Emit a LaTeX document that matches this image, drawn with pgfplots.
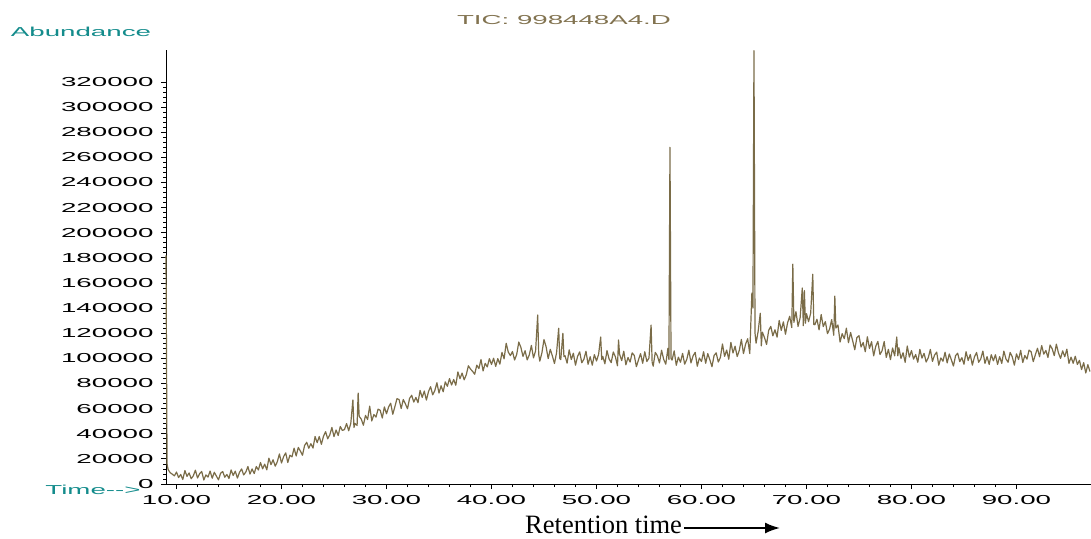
\documentclass[border=0pt]{standalone}
\usepackage{fontspec}
\usepackage{pgfplots}
\pgfplotsset{compat=1.18}
\usetikzlibrary{arrows.meta}
\setmainfont{Liberation Serif}
\newfontfamily\widefont[FakeStretch=2.13]{Liberation Sans}
\definecolor{tealc}{RGB}{20,140,140}
\definecolor{titlec}{RGB}{130,115,80}
\definecolor{linec}{RGB}{122,108,72}
\begin{document}
\begin{tikzpicture}
\path[use as bounding box] (0,0) rectangle (1091pt,538pt);
\begin{axis}[
  at={(166pt,54pt)}, anchor=south west,
  scale only axis, width=925pt, height=434pt,
  xmin=9.0, xmax=97.1, ymin=0, ymax=345500,
  axis lines*=left,
  axis line style={black, line width=0.9pt},
  tick align=outside,
  major tick length=5pt, minor tick length=3pt,
  tick style={black, line width=0.8pt},
  xtick={10,20,...,90}, minor x tick num=4,
  ytick={0,20000,...,320000}, minor y tick num=4,
  scaled y ticks=false,
  tick label style={font=\widefont\fontsize{13}{13}\selectfont, /pgf/number format/assume math mode=true},
  xticklabel style={yshift=-3pt, /pgf/number format/.cd, fixed, fixed zerofill, precision=2},
  yticklabel style={xshift=-4pt, /pgf/number format/.cd, fixed, 1000 sep={}},
  clip=false,
]
\addplot[color=linec, line width=1.2pt, line join=round, mark=none] coordinates {
(9.0,182000)(9.1,16000)(9.2,11500)(9.4,9000)(9.6,7800)(9.8,6500)
(10.0,9500)(10.2,5100)(10.4,7600)(10.6,3600)(10.8,10700)(11.0,6100)(11.2,8800)(11.4,4200)(11.6,6500)(11.8,11000)
(12.0,4800)(12.2,8200)(12.4,10000)(12.6,3200)(12.8,7200)(13.0,5500)(13.2,10300)(13.4,4600)(13.6,9300)(13.8,6300)
(14.0,3300)(14.2,8600)(14.4,9900)(14.6,5400)(14.8,7600)(15.0,4400)(15.2,11200)(15.4,6800)(15.6,10200)(15.8,4700)
(16.0,9300)(16.2,12000)(16.4,7200)(16.6,9500)(16.8,13900)(17.0,7900)(17.2,12000)(17.4,8300)(17.6,13900)(17.8,11200)
(18.0,17100)(18.2,12100)(18.4,15800)(18.6,11300)(18.8,20600)(19.0,15400)(19.2,19300)(19.4,14200)(19.6,17700)(19.8,23900)
(20.0,16700)(20.2,21800)(20.4,24800)(20.6,17100)(20.8,22900)(21.0,21600)(21.2,28500)(21.4,22300)(21.6,29100)(21.8,26200)
(22.0,22900)(22.2,30700)(22.4,33200)(22.6,28500)(22.8,32100)(23.0,28600)(23.2,37800)(23.4,32900)(23.6,37800)(23.8,31600)
(24.0,38000)(24.2,41700)(24.4,36000)(24.6,39100)(24.8,45000)(25.0,37700)(25.2,43000)(25.4,38600)(25.6,45800)(25.8,42600)
(26.0,43400)(26.2,48100)(26.4,42400)(26.6,48300)(26.8,66900)(26.9,45000)(27.0,48200)(27.2,46600)(27.3,72400)(27.4,53800)
(27.6,51600)(27.8,46800)(28.0,54600)(28.2,51300)(28.4,62000)(28.6,50200)(28.8,55300)(29.0,53300)(29.2,59600)(29.4,58700)
(29.6,52500)(29.8,61400)
(30.0,55900)(30.2,61300)(30.4,64300)(30.6,55500)(30.8,61600)(31.0,68000)(31.2,67200)(31.4,60100)(31.6,67300)(31.8,63800)
(32.0,59900)(32.2,68200)(32.4,70600)(32.6,65200)(32.8,68900)(33.0,64700)(33.2,74500)(33.4,68900)(33.6,74000)(33.8,66800)
(34.0,73600)(34.2,77500)(34.4,71000)(34.6,74300)(34.8,80600)(35.0,72400)(35.2,78200)(35.4,73400)(35.6,81300)(35.8,77800)
(36.0,83900)(36.2,78800)(36.4,83200)(36.6,78600)(36.8,89200)(37.0,83800)(37.2,88300)(37.4,82900)(37.6,87000)(37.8,94100)
(38.0,91500)(38.2,89700)(38.4,87400)(38.6,94600)(38.8,91900)(39.0,99100)(39.2,90000)(39.4,96100)(39.6,93200)(39.8,99800)
(40.0,95200)(40.2,100100)(40.4,93600)(40.6,99800)(40.8,95400)(41.0,104800)(41.2,99600)(41.4,112000)(41.6,105000)(41.8,102200)
(42.0,105500)(42.2,98700)(42.4,103100)(42.6,113000)(42.8,108700)(43.0,101600)(43.2,106100)(43.4,98800)(43.6,102800)(43.8,110300)
(44.0,100400)(44.2,106000)(44.4,134500)(44.5,103000)(44.6,97800)(44.8,104300)(45.0,115000)(45.2,109300)(45.4,99800)(45.6,107200)
(45.8,101900)(46.0,95900)(46.2,104600)(46.4,124000)(46.5,100000)(46.6,99000)(46.8,120000)(46.9,101500)(47.0,102200)(47.2,96200)
(47.4,106800)(47.6,99100)(47.8,104100)(48.0,94600)(48.2,101600)(48.4,105200)(48.6,96500)(48.8,99300)(49.0,105700)(49.2,95300)
(49.4,101300)(49.6,94600)(49.8,103000)(50.0,97900)(50.2,103100)(50.4,117000)(50.5,99000)(50.6,101600)(50.8,95700)(51.0,106200)
(51.2,99600)(51.4,96600)(51.6,105100)(51.8,101300)(52.0,94100)(52.1,114600)(52.2,103400)(52.4,98200)(52.6,105700)(52.8,94900)
(53.0,100700)(53.2,97100)(53.4,104400)(53.6,102300)(53.8,93400)(54.0,98800)(54.2,103800)(54.4,96100)(54.6,105300)(54.8,97500)
(55.0,100300)(55.2,126500)(55.3,97000)(55.4,93800)(55.6,104800)(55.8,102000)(56.0,96400)(56.2,106500)(56.4,99200)(56.6,95400)
(56.8,108000)(56.9,99000)(57.0,268000)(57.1,100000)(57.2,98600)(57.4,106000)(57.6,94500)(57.8,101000)(58.0,96900)(58.2,104000)
(58.4,95400)(58.6,99200)(58.8,106500)(59.0,96400)(59.2,102000)(59.4,104800)(59.6,93800)(59.8,100300)(60.0,97500)(60.2,105300)
(60.4,96100)(60.6,103800)(60.8,98800)(61.0,93400)(61.2,102300)(61.4,104400)(61.6,97100)(61.8,100700)
(62.0,111500)(62.2,101600)(62.4,106600)(62.6,99300)(62.8,112700)(63.0,104300)(63.2,109700)(63.4,101500)(63.6,106300)(63.8,115100)
(64.0,103800)(64.2,111300)(64.4,115600)(64.6,103800)(64.8,152000)(64.9,140000)(65.0,345000)(65.1,120000)(65.2,112100)(65.4,121700)
(65.6,136000)(65.7,110000)(65.8,120900)(66.0,116600)(66.2,111100)(66.4,122300)(66.6,125500)(66.8,117900)(67.0,122800)(67.2,116900)
(67.4,130200)(67.6,122300)(67.8,129100)(68.0,119200)(68.2,128300)(68.4,133500)(68.6,124500)(68.7,175000)(68.8,128700)(69.0,137200)
(69.2,125400)(69.4,132600)(69.6,156000)(69.7,126000)(69.8,154000)(69.9,128000)(70.0,135600)(70.2,129200)(70.4,135900)(70.6,167000)
(70.7,127000)(70.8,126800)(71.0,131200)(71.2,122700)(71.4,134900)(71.6,125300)(71.8,129300)(72.0,119700)(72.2,123300)(72.4,130900)
(72.6,118400)(72.7,149600)(72.8,124100)(73.0,126600)(73.2,113000)(73.4,119700)(73.6,115700)(73.8,124000)(74.0,112500)(74.2,120600)
(74.4,114000)(74.6,106900)(74.8,116500)(75.0,118100)(75.2,109100)(75.4,112600)(75.6,105300)(75.8,117200)(76.0,107900)(76.2,113300)
(76.4,102000)(76.6,109700)(76.8,113500)(77.0,103100)(77.2,106100)(77.4,113400)(77.6,100800)(77.8,107200)(78.0,99000)(78.2,108300)
(78.4,102000)(78.6,117000)(78.7,102000)(78.8,108500)(79.0,99900)(79.2,104500)(79.4,96800)(79.6,109800)(79.8,101000)
(80.0,106200)(80.2,99400)(80.4,103100)(80.6,96900)(80.8,107200)(81.0,100200)(81.2,104000)(81.4,97100)(81.6,100500)(81.8,107100)
(82.0,97600)(82.2,102600)(82.4,105000)(82.6,94600)(82.8,100400)(83.0,97700)(83.2,104900)(83.4,96400)(83.6,103500)(83.8,98900)
(84.0,93900)(84.2,102200)(84.4,104100)(84.6,97400)(84.8,100600)(85.0,95300)(85.2,105300)(85.4,98300)(85.6,103100)(85.8,94600)
(86.0,101200)(86.2,104700)(86.4,96900)(86.6,99600)(86.8,105800)(87.0,96000)(87.2,101400)(87.4,95200)(87.6,102900)(87.8,98100)
(88.0,102900)(88.2,95200)(88.4,101400)(88.6,96000)(88.8,105800)(89.0,99600)(89.2,96900)(89.4,104700)(89.6,101200)(89.8,94600)
(90.0,103600)(90.2,99100)(90.4,106400)(90.6,96700)(90.8,102300)(91.0,99400)(91.2,106600)(91.4,105200)(91.6,97400)(91.8,102900)
(92.0,108000)(92.2,101300)(92.4,110200)(92.6,103400)(92.8,106300)(93.0,100700)(93.2,110600)(93.4,107700)(93.6,102200)(93.8,111300)
(94.0,104300)(94.2,100000)(94.4,106000)(94.6,101300)(94.8,107300)(95.0,96000)(95.2,101000)(95.4,96100)(95.6,101700)(95.8,95200)
(96.0,98400)(96.2,91100)(96.4,96600)(96.6,88400)(96.8,95000)(97.0,89500)
};
\end{axis}
\node[anchor=center, text=tealc, font=\widefont\fontsize{13}{13}\selectfont, inner sep=0pt] at (81pt,506pt) {Abundance};
\node[anchor=center, text=titlec, font=\widefont\fontsize{13}{13}\selectfont, inner sep=0pt] at (564pt,518pt) {TIC: 998448A4.D};
\node[anchor=center, text=tealc, font=\widefont\fontsize{13}{13}\selectfont, inner sep=0pt] at (93pt,48pt) {Time-{}-{}>};
\node[anchor=base west, font=\fontsize{26.5}{27}\selectfont, inner sep=0pt] at (525pt,5pt) {Retention time};
\draw[line width=2pt, -{Latex[length=15pt,width=11pt]}] (684pt,10pt) -- (780pt,10pt);
\end{tikzpicture}
\end{document}
